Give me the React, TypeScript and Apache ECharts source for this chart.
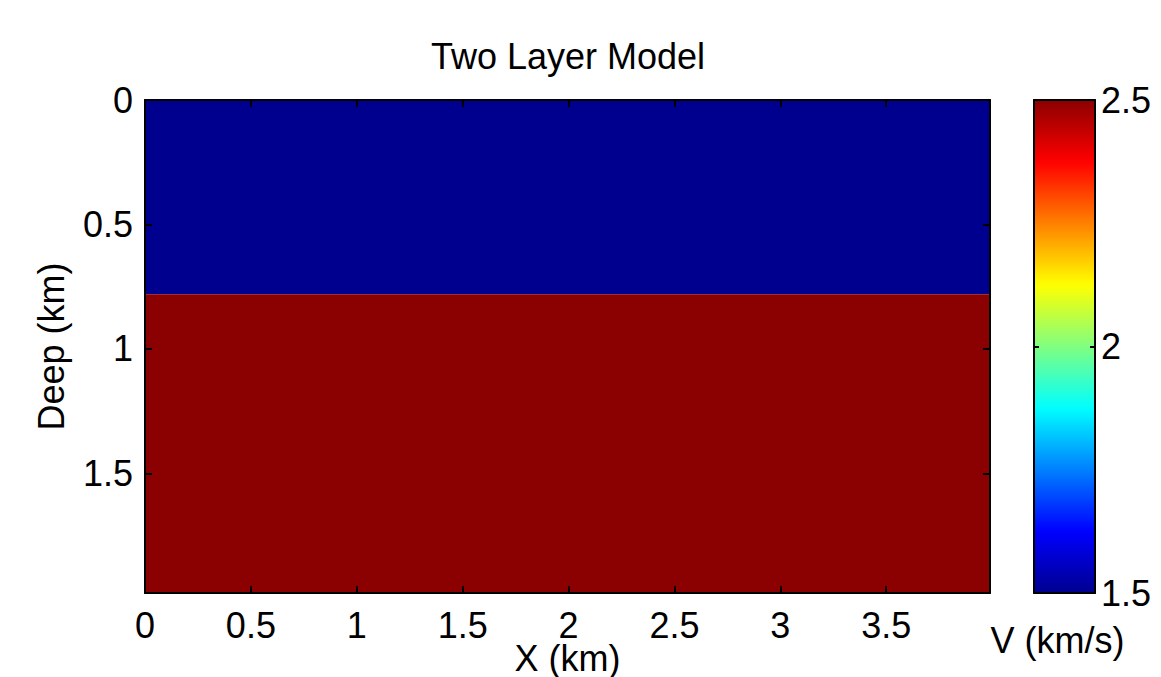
import React, { useEffect, useRef } from "react";
import * as echarts from "echarts";

// ---- data ----
const layerNames = ["Upper layer", "Lower layer"];
const layerTopKm = [0, 0.78];
const layerBottomKm = [0.78, 1.98];
const layerVelocity = [1.5, 2.5];
const modelStartKm = 0;
const modelEndKm = 3.99;
const modelDepthKm = 1.98;

const xTickLabels = [0, 0.5, 1, 1.5, 2, 2.5, 3, 3.5];
const yTickLabels = [0, 0.5, 1, 1.5];
const cbTickLabels = [1.5, 2, 2.5];
const vMin = 1.5;
const vMax = 2.5;

const jetColors = [
  "#00008F",
  "#0000FF",
  "#0080FF",
  "#00FFFF",
  "#80FF80",
  "#FFFF00",
  "#FF8000",
  "#FF0000",
  "#8B0000",
];

const FONT = "'Liberation Sans', Arial, Helvetica, sans-serif";
const FS = 36;

export default function App() {
  const ref = useRef<HTMLDivElement>(null);
  useEffect(() => {
    if (!ref.current) return;
    const chart = echarts.init(ref.current, undefined, { renderer: "svg" });

    const layerData = layerNames.map((name, i) => ({
      name,
      value: [modelStartKm, modelEndKm, layerTopKm[i], layerBottomKm[i], layerVelocity[i]],
    }));

    const fmt = (list: number[]) => (v: number) =>
      list.some((t) => Math.abs(t - v) < 1e-9) ? String(v) : "";

    const axisLine = { show: true, onZero: false, lineStyle: { color: "#000", width: 2 } };
    const labelStyle = { color: "#000", fontFamily: FONT, fontSize: FS };
    const tick = (len: number) => ({
      show: true,
      inside: true,
      length: len,
      lineStyle: { color: "#000", width: 2 },
    });

    chart.setOption({
      animation: false,
      backgroundColor: "#fff",
      title: {
        text: "Two Layer Model",
        left: 568,
        textAlign: "center",
        top: 38,
        padding: 0,
        textStyle: { color: "#000", fontFamily: FONT, fontSize: FS, fontWeight: "normal" },
      },
      grid: [
        { left: 145, top: 100, width: 845, height: 493, containLabel: false, outerBoundsMode: "none" },
        { left: 1034, top: 100, width: 61, height: 493, containLabel: false, outerBoundsMode: "none" },
      ],
      visualMap: {
        type: "continuous",
        seriesIndex: 0,
        dimension: 4,
        min: vMin,
        max: vMax,
        calculable: false,
        left: 1034,
        top: 100,
        padding: 0,
        itemWidth: 61,
        itemHeight: 493,
        inRange: { color: jetColors },
        textStyle: { color: "transparent" },
        hoverLink: false,
      },
      xAxis: [
        {
          gridIndex: 0,
          type: "value",
          min: modelStartKm,
          max: modelEndKm,
          interval: 0.5,
          position: "bottom",
          z: 10,
          axisLine,
          axisTick: tick(7),
          axisLabel: {
            ...labelStyle,
            lineHeight: 30,
            margin: 17,
            formatter: fmt(xTickLabels),
            showMaxLabel: false,
          },
          splitLine: { show: false },
          name: "X (km)",
          nameLocation: "middle",
          nameGap: 48,
          nameMoveOverlap: false,
          nameTextStyle: { ...labelStyle, lineHeight: 34 },
        },
        {
          gridIndex: 0,
          type: "value",
          min: modelStartKm,
          max: modelEndKm,
          interval: 0.5,
          position: "top",
          z: 10,
          axisLine,
          axisTick: tick(7),
          axisLabel: { show: false },
          splitLine: { show: false },
        },
        {
          gridIndex: 1,
          type: "value",
          min: 0,
          max: 1,
          position: "bottom",
          z: 10,
          axisLine,
          axisTick: { show: false },
          axisLabel: { show: false },
          splitLine: { show: false },
          name: "V (km/s)",
          nameLocation: "middle",
          nameGap: 29,
          nameMoveOverlap: false,
          nameTextStyle: { ...labelStyle, padding: [0, 14, 0, 0] },
        },
        {
          gridIndex: 1,
          type: "value",
          min: 0,
          max: 1,
          position: "top",
          z: 10,
          axisLine,
          axisTick: { show: false },
          axisLabel: { show: false },
          splitLine: { show: false },
        },
      ],
      yAxis: [
        {
          gridIndex: 0,
          type: "value",
          inverse: true,
          min: 0,
          max: modelDepthKm,
          interval: 0.5,
          position: "left",
          z: 10,
          axisLine,
          axisTick: tick(7),
          axisLabel: { ...labelStyle, margin: 12, formatter: fmt(yTickLabels), showMaxLabel: false },
          splitLine: { show: false },
          name: "Deep (km)",
          nameLocation: "middle",
          nameGap: 76,
          nameMoveOverlap: false,
          nameTextStyle: labelStyle,
        },
        {
          gridIndex: 0,
          type: "value",
          inverse: true,
          min: 0,
          max: modelDepthKm,
          interval: 0.5,
          position: "right",
          z: 10,
          axisLine,
          axisTick: tick(7),
          axisLabel: { show: false },
          splitLine: { show: false },
        },
        {
          gridIndex: 1,
          type: "value",
          min: vMin,
          max: vMax,
          interval: 0.5,
          position: "right",
          z: 10,
          axisLine,
          axisTick: tick(5),
          axisLabel: { ...labelStyle, margin: 6, formatter: fmt(cbTickLabels) },
          splitLine: { show: false },
        },
        {
          gridIndex: 1,
          type: "value",
          min: vMin,
          max: vMax,
          interval: 0.5,
          position: "left",
          z: 10,
          axisLine,
          axisTick: tick(5),
          axisLabel: { show: false },
          splitLine: { show: false },
        },
      ],
      series: [
        {
          type: "custom",
          name: "Velocity model",
          xAxisIndex: 0,
          yAxisIndex: 0,
          encode: { x: [0, 1], y: [2, 3] },
          clip: true,
          data: layerData,
          renderItem: (params: any, api: any) => {
            const a = api.coord([api.value(0), api.value(2)]);
            const b = api.coord([api.value(1), api.value(3)]);
            return {
              type: "rect",
              shape: {
                x: Math.min(a[0], b[0]),
                y: Math.min(a[1], b[1]),
                width: Math.abs(b[0] - a[0]),
                height: Math.abs(b[1] - a[1]),
              },
              style: { fill: api.visual("color") },
            };
          },
        },
      ],
    });
    return () => chart.dispose();
  }, []);
  return (
    <div
      ref={ref}
      style={{ position: "fixed", left: 0, top: 0, width: 1161, height: 677, background: "#fff" }}
    />
  );
}
